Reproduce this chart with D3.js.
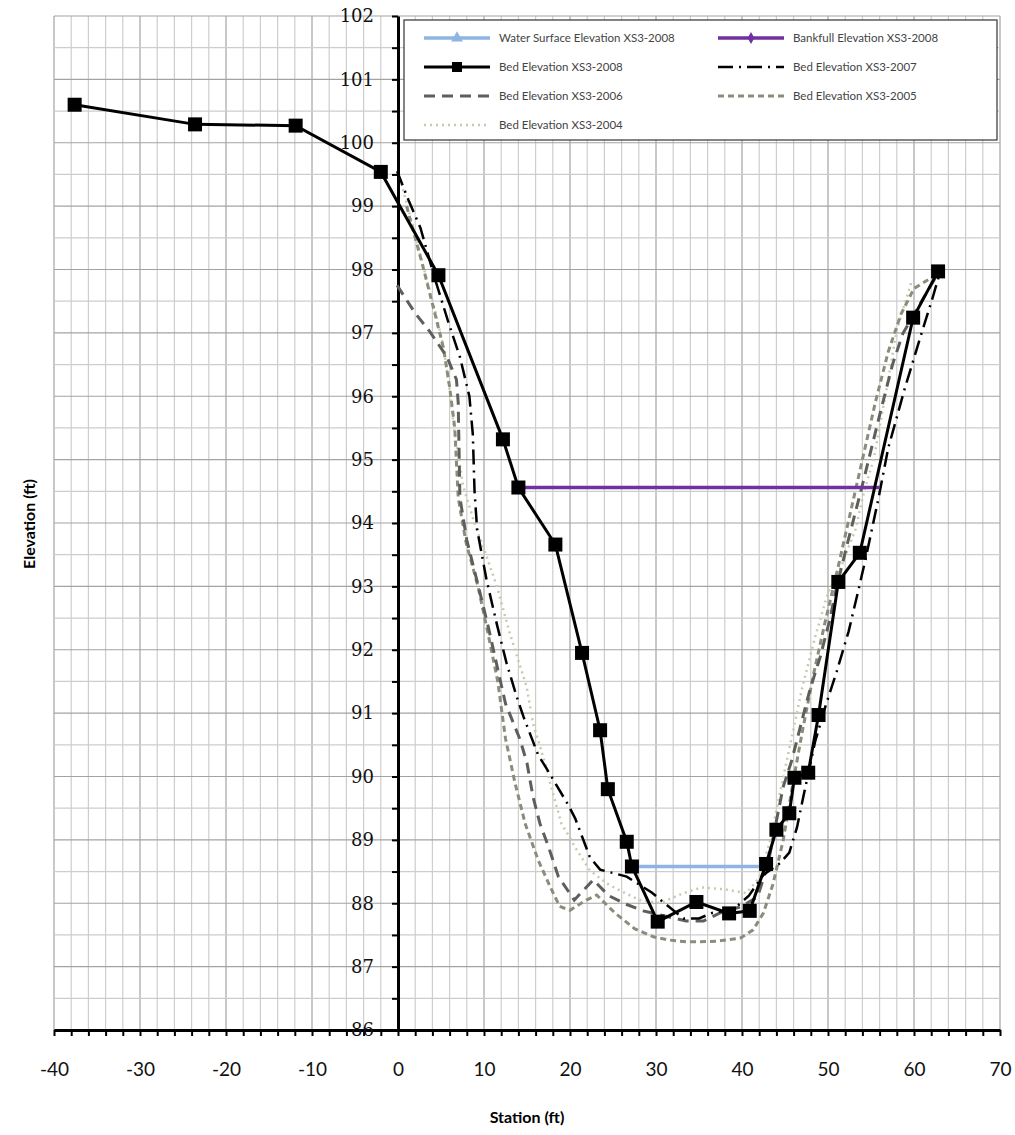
<!DOCTYPE html>
<html>
<head>
<meta charset="utf-8">
<script src="https://cdn.jsdelivr.net/npm/d3@7"></script>
<style>
  body { margin: 0; background: #fff; }
  svg text { font-family: Lato, "Open Sans", sans-serif; }
</style>
</head>
<body>
<div id="chart"></div>
<script>
// ---- data (station ft, elevation ft) ----
var waterSurface2008 = [[27.3, 88.58], [42.7, 88.58]];
var bankfull2008 = [[14.0, 94.56], [56.0, 94.56]];

var bed2008 = [[-37.6, 100.60], [-23.6, 100.29], [-11.9, 100.27], [-2.0, 99.54], [4.7, 97.91],
  [12.2, 95.32], [14.0, 94.56], [18.3, 93.66], [21.4, 91.95], [23.5, 90.73], [24.4, 89.80],
  [26.6, 88.97], [27.2, 88.58], [30.2, 87.71], [34.7, 88.02], [38.5, 87.84], [40.9, 87.88],
  [42.8, 88.62], [44.0, 89.16], [45.5, 89.42], [46.1, 89.98], [47.7, 90.06], [48.9, 90.97],
  [51.2, 93.07], [53.7, 93.53], [59.9, 97.24], [62.8, 97.97]];

var bed2007 = [[-0.1, 99.55], [1.2, 99.1], [2.6, 98.66], [4.3, 97.85], [5.9, 97.15], [7.2, 96.62],
  [8.3, 96.0], [8.7, 95.4], [8.9, 94.5], [9.2, 93.9], [10.3, 93.1], [11.5, 92.4], [12.6, 91.8],
  [13.8, 91.26], [14.6, 90.94], [16.3, 90.34], [17.3, 90.12], [19.8, 89.55], [20.6, 89.34],
  [22.3, 88.73], [23.5, 88.53], [26.6, 88.42], [29.5, 88.17], [31.0, 88.0], [33.2, 87.76],
  [35.0, 87.76], [36.6, 87.85], [39.0, 87.9], [40.8, 88.12], [42.5, 88.45], [44.4, 88.63],
  [45.5, 88.8], [46.4, 89.2], [47.1, 89.66], [48.5, 90.55], [49.8, 91.15], [51.0, 91.65],
  [52.4, 92.29], [53.5, 92.92], [54.4, 93.45], [55.9, 94.41], [57.0, 95.18], [58.9, 96.11],
  [60.8, 96.96], [62.2, 97.57], [62.9, 97.9]];

var bed2006 = [[-0.1, 97.75], [2.0, 97.31], [3.7, 97.02], [5.7, 96.62], [6.8, 96.26], [7.0, 95.9],
  [7.2, 94.4], [8.0, 93.73], [9.35, 93.0], [10.5, 92.36], [11.7, 91.63], [12.5, 91.15],
  [13.4, 90.85], [14.2, 90.58], [15.0, 90.21], [15.7, 89.68], [16.5, 89.26], [17.5, 88.89],
  [18.65, 88.42], [20.5, 88.05], [22.7, 88.37], [24.5, 88.12], [26.6, 87.98], [28.5, 87.88],
  [31.0, 87.8], [33.5, 87.72], [35.5, 87.72], [37.5, 87.85], [40.0, 87.95], [41.8, 88.1],
  [43.0, 88.6], [44.0, 89.3], [44.8, 89.84], [45.8, 90.26], [47.0, 90.9], [47.9, 91.37],
  [49.1, 91.89], [50.2, 92.47], [51.0, 92.99], [52.3, 93.7], [54.0, 94.6], [56.0, 95.7],
  [57.5, 96.5], [58.7, 96.99], [59.9, 97.27], [62.7, 97.92]];

var bed2005 = [[1.0, 99.0], [2.8, 98.1], [4.3, 97.3], [5.3, 96.75], [6.0, 96.15], [6.6, 95.5],
  [7.0, 94.4], [7.9, 93.7], [9.3, 93.0], [10.4, 92.3], [11.6, 91.5], [12.5, 90.6], [13.6, 89.9],
  [14.8, 89.25], [16.3, 88.68], [17.7, 88.26], [18.8, 87.95], [20.0, 87.89], [21.9, 88.05],
  [23.1, 88.13], [25.2, 87.85], [27.5, 87.6], [29.7, 87.47], [31.5, 87.42], [33.6, 87.39],
  [37.0, 87.4], [39.8, 87.45], [41.3, 87.58], [42.5, 87.85], [43.6, 88.3], [44.8, 89.0],
  [45.8, 89.8], [47.0, 90.7], [48.3, 91.6], [49.6, 92.4], [51.0, 93.2], [52.5, 94.1],
  [54.0, 95.0], [55.5, 95.9], [57.0, 96.7], [58.5, 97.3], [60.0, 97.7], [62.6, 97.92]];

var bed2004 = [[0.2, 99.45], [1.5, 98.8], [2.75, 98.15], [4.3, 97.36], [5.3, 96.78], [6.0, 96.1],
  [6.6, 95.4], [7.6, 94.57], [9.0, 93.95], [9.9, 93.63], [11.5, 93.0], [13.0, 92.26],
  [14.95, 91.42], [15.7, 90.84], [17.1, 90.21], [17.9, 89.79], [19.0, 89.26], [20.8, 88.84],
  [22.3, 88.52], [24.3, 88.31], [25.8, 88.2], [28.1, 88.05], [30.5, 88.0], [33.0, 88.15],
  [35.3, 88.25], [38.0, 88.22], [40.5, 88.16], [42.0, 88.4], [43.3, 89.0], [44.5, 89.8],
  [45.6, 90.5], [47.0, 91.4], [48.5, 92.2], [50.0, 92.9], [51.5, 93.3], [53.2, 93.9],
  [54.2, 94.5], [55.3, 95.0], [56.8, 96.1], [58.0, 97.05], [59.7, 97.8]];

var xTickLabels = [-40, -30, -20, -10, 0, 10, 20, 30, 40, 50, 60, 70];
var yTickLabels = [86, 87, 88, 89, 90, 91, 92, 93, 94, 95, 96, 97, 98, 99, 100, 101, 102];

// ---- layout ----
var width = 1015, height = 1135;
var plot = {left: 54, right: 1000, top: 16, bottom: 1030};

var svg = d3.select("#chart")
  .append("svg")
    .attr("width", width)
    .attr("height", height);

var x = d3.scaleLinear().domain([-40, 70]).range([plot.left, plot.right]);
var y = d3.scaleLinear().domain([86, 102]).range([plot.bottom, plot.top]);

// gridlines: minor every 2 ft / 0.5 ft, major every 10 ft / 1 ft
var grid = svg.append("g");
grid.selectAll(".vx")
  .data(d3.range(-40, 70.01, 2))
  .enter().append("line")
    .attr("x1", function(d) { return x(d); })
    .attr("x2", function(d) { return x(d); })
    .attr("y1", plot.top).attr("y2", plot.bottom)
    .attr("stroke", function(d) { return d % 10 === 0 ? "#a3a3a3" : "#cdcdcd"; })
    .attr("stroke-width", 1.2);
grid.selectAll(".hy")
  .data(d3.range(86, 102.01, 0.5))
  .enter().append("line")
    .attr("y1", function(d) { return y(d); })
    .attr("y2", function(d) { return y(d); })
    .attr("x1", plot.left).attr("x2", plot.right)
    .attr("stroke", function(d) { return d % 1 === 0 ? "#a3a3a3" : "#cdcdcd"; })
    .attr("stroke-width", 1.2);

// X axis along elevation 86
var xAxis = svg.append("g")
  .attr("transform", "translate(0," + y(86) + ")")
  .call(d3.axisBottom(x)
    .tickValues(d3.range(-40, 70.01, 2))
    .tickSize(6).tickSizeOuter(0).tickPadding(27)
    .tickFormat(function(d) { return xTickLabels.indexOf(d) >= 0 ? d : ""; }));
xAxis.select(".domain").attr("stroke", "#000").attr("stroke-width", 3);
xAxis.selectAll(".tick line").attr("stroke", "#000").attr("stroke-width", 2);
xAxis.selectAll("text").attr("font-size", 19).attr("fill", "#111")
  .style("font-family", "Lato, sans-serif");

// Y axis crossing at station 0
var yAxis = svg.append("g")
  .attr("transform", "translate(" + x(0) + ",0)")
  .call(d3.axisLeft(y)
    .tickValues(d3.range(86, 102.01, 0.5))
    .tickSize(6).tickSizeOuter(0).tickPadding(18)
    .tickFormat(function(d) { return yTickLabels.indexOf(d) >= 0 ? d : ""; }));
yAxis.select(".domain").attr("stroke", "#000").attr("stroke-width", 3);
yAxis.selectAll(".tick line").attr("stroke", "#000").attr("stroke-width", 2);
yAxis.selectAll("text").attr("font-size", 18).attr("fill", "#111")
  .style("font-family", "'DejaVu Serif', serif");

// axis titles
svg.append("text")
  .attr("x", 527).attr("y", 1123)
  .attr("text-anchor", "middle")
  .attr("font-size", 16).attr("font-weight", "bold")
  .text("Station (ft)");
svg.append("text")
  .attr("transform", "translate(35,524) rotate(-90)")
  .attr("text-anchor", "middle")
  .attr("font-size", 16).attr("font-weight", "bold")
  .text("Elevation (ft)");

// series
var line = d3.line()
  .x(function(d) { return x(d[0]); })
  .y(function(d) { return y(d[1]); });

var series = [
  {name: "Bed Elevation XS3-2004", data: bed2004, color: "#c9c9ae", width: 2.5, dash: "2,4"},
  {name: "Bed Elevation XS3-2005", data: bed2005, color: "#8c8c7c", width: 3, dash: "6,4"},
  {name: "Bed Elevation XS3-2006", data: bed2006, color: "#5e5e5a", width: 3, dash: "11,7"},
  {name: "Bed Elevation XS3-2007", data: bed2007, color: "#000", width: 2.5, dash: "15,6,2,6"},
  {name: "Water Surface Elevation XS3-2008", data: waterSurface2008, color: "#8eb4e3", width: 3.5, dash: null},
  {name: "Bankfull Elevation XS3-2008", data: bankfull2008, color: "#7030a0", width: 3.5, dash: null},
  {name: "Bed Elevation XS3-2008", data: bed2008, color: "#000", width: 3, dash: null}
];

series.forEach(function(s) {
  svg.append("path")
    .datum(s.data)
    .attr("d", line)
    .attr("fill", "none")
    .attr("stroke", s.color)
    .attr("stroke-width", s.width)
    .attr("stroke-dasharray", s.dash);
});

// square markers on the 2008 bed
svg.selectAll(".sq")
  .data(bed2008)
  .enter().append("rect")
    .attr("x", function(d) { return x(d[0]) - 7; })
    .attr("y", function(d) { return y(d[1]) - 7; })
    .attr("width", 14).attr("height", 14)
    .attr("fill", "#000");

// legend
var legend = svg.append("g");
legend.append("rect")
  .attr("x", 404).attr("y", 20)
  .attr("width", 593).attr("height", 120)
  .attr("fill", "#fff").attr("stroke", "#333").attr("stroke-width", 1.2);

var legendItems = [
  {s: 4, col: 0, row: 0, marker: "triangle"},
  {s: 5, col: 1, row: 0, marker: "diamond"},
  {s: 6, col: 0, row: 1, marker: "square"},
  {s: 3, col: 1, row: 1, marker: null},
  {s: 2, col: 0, row: 2, marker: null},
  {s: 1, col: 1, row: 2, marker: null},
  {s: 0, col: 0, row: 3, marker: null}
];
var colX = [424, 718], rowY = [38, 67, 96, 125];

legendItems.forEach(function(it) {
  var s = series[it.s];
  var x0 = colX[it.col], yy = rowY[it.row];
  legend.append("line")
    .attr("x1", x0).attr("x2", x0 + 66)
    .attr("y1", yy).attr("y2", yy)
    .attr("stroke", s.color)
    .attr("stroke-width", s.width)
    .attr("stroke-dasharray", s.dash);
  var cx = x0 + 33;
  if (it.marker === "square") {
    legend.append("rect").attr("x", cx - 5).attr("y", yy - 5)
      .attr("width", 10).attr("height", 10).attr("fill", s.color);
  } else if (it.marker) {
    legend.append("path")
      .attr("transform", "translate(" + cx + "," + yy + ")")
      .attr("d", d3.symbol().type(it.marker === "triangle" ? d3.symbolTriangle : d3.symbolDiamond)
        .size(it.marker === "triangle" ? 60 : 40)())
      .attr("fill", s.color);
  }
  legend.append("text")
    .attr("x", x0 + 75).attr("y", yy + 4)
    .attr("font-size", 11.5).attr("fill", "#444")
    .text(s.name);
});
</script>
</body>
</html>
